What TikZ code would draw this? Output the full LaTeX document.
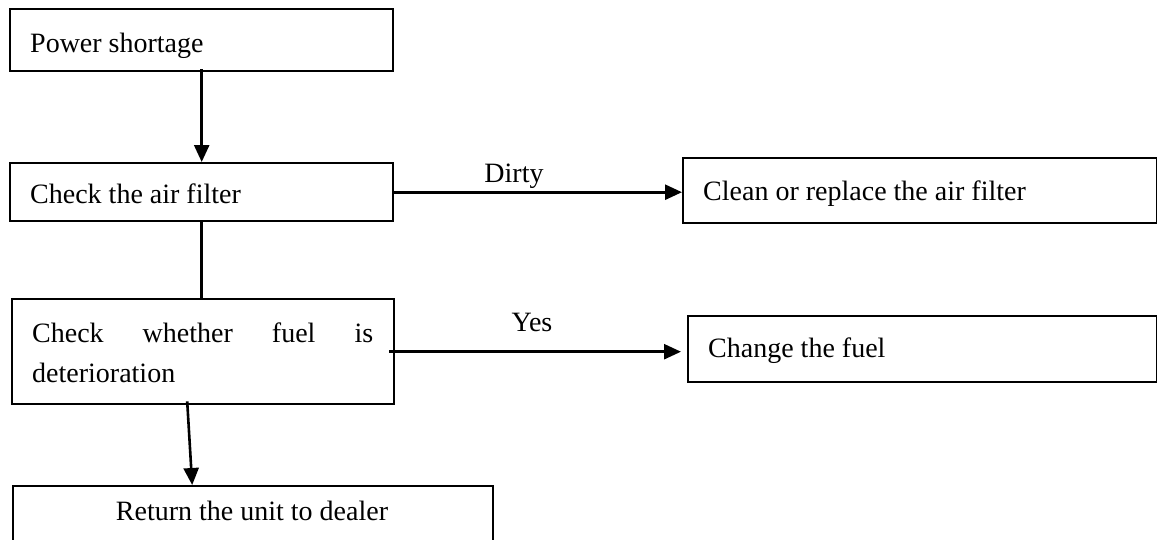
\documentclass[tikz,border=0pt]{standalone}
\usepackage{fontspec}
\setmainfont{Liberation Serif}
\usetikzlibrary{arrows.meta}
\begin{document}
\begin{tikzpicture}[x=1pt,y=-1pt,
  box/.style={draw, line width=2.4pt, rectangle, inner sep=0pt, anchor=north west},
  lbl/.style={inner sep=0pt, anchor=base west, font=\fontsize{28}{40}\selectfont},
  clbl/.style={inner sep=0pt, anchor=base, font=\fontsize{28}{40}\selectfont},
  arr/.style={-{Triangle[length=17pt,width=15pt]}, line width=2.6pt},
  plain/.style={line width=2.6pt}
]
\useasboundingbox (0,0) rectangle (1157,539);

% boxes
\node[box, minimum width=383pt, minimum height=62pt] (b1) at (9,8) {};
\node[box, minimum width=383pt, minimum height=58pt] (b2) at (9,162) {};
\node[box, minimum width=382pt, minimum height=105pt] (b3) at (11,298) {};
\node[box, minimum width=474pt, minimum height=65pt] (b4) at (682,157) {};
\node[box, minimum width=469pt, minimum height=66pt] (b5) at (687,315) {};
\node[box, minimum width=480pt, minimum height=80pt] (b6) at (12,485) {};

% texts
\node[lbl] (t1) at (30,52) {Power shortage};
\node[lbl] (t2) at (30,203) {Check the air filter};
\node[lbl] (t3a) at (32,342) {\makebox[341pt][s]{Check whether fuel is}};
\node[lbl] (t3b) at (32,382) {deterioration};
\node[lbl] (t4) at (703,200) {Clean or replace the air filter};
\node[lbl] (t5) at (708,357) {Change the fuel};
\node[clbl] (t6) at (252,520) {Return the unit to dealer};
\node[clbl] (ldirty) at (514,182) {Dirty};
\node[clbl] (lyes) at (532,331) {Yes};

% connectors
\draw[arr] ([yshift=3pt]b1.south) -- (b2.north);
\draw[plain] (b2.south) -- (b2.south |- b3.north);
\draw[arr] (b2.east) -- (b2.east -| b4.west);
\draw[arr] ([xshift=-6pt]b3.east) -- ([xshift=-6pt]b3.east -| b5.west);
\draw[arr] ([xshift=-16pt,yshift=4pt]b3.south) -- ([xshift=-61pt]b6.north);
\end{tikzpicture}
\end{document}
